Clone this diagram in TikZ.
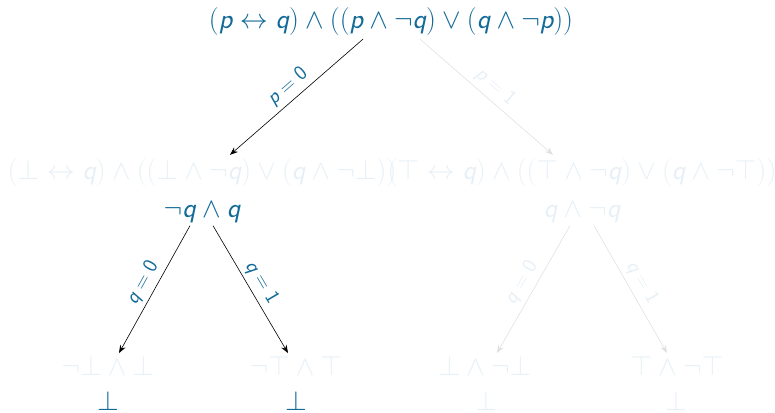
\documentclass[tikz,border=0pt]{standalone}
\usetikzlibrary{arrows.meta}
\definecolor{mainblue}{RGB}{18,106,152}
\definecolor{fadeblue}{RGB}{231,240,246}
\definecolor{fadegray}{RGB}{225,225,225}
\newcommand{\vp}{\textsf{\slshape p}}
\newcommand{\vq}{\textsf{\slshape q}}
\newcommand{\dz}{\textsf{0}}
\newcommand{\dn}{\textsf{1}}
\tikzset{
  expr/.style={text=mainblue, inner sep=0pt, scale=1.12, font=\fontsize{24.88}{30}\selectfont},
  fexpr/.style={expr, text=fadeblue},
  conn/.style={-{Stealth[length=8pt,width=6pt]}, line width=0.6pt, black},
  fconn/.style={conn, fadegray},
  lab/.style={text=mainblue, font=\fontsize{20.74}{24}\selectfont, sloped, above, inner sep=4pt},
  flab/.style={lab, text=fadeblue}
}
\begin{document}
\begin{tikzpicture}[x=1pt,y=-1pt]
\useasboundingbox (0,0) rectangle (775,412);
\node[expr] (top) at (391,22) {$(\vp\leftrightarrow\vq)\wedge((\vp\wedge\neg\vq)\vee(\vq\wedge\neg\vp))$};
\node[fexpr] (L) at (202,173) {$(\bot\leftrightarrow\vq)\wedge((\bot\wedge\neg\vq)\vee(\vq\wedge\neg\bot))$};
\node[expr] (Ls) at (202,212) {$\neg\vq\wedge\vq$};
\node[fexpr] (R) at (582,173) {$(\top\leftrightarrow\vq)\wedge((\top\wedge\neg\vq)\vee(\vq\wedge\neg\top))$};
\node[fexpr] (Rs) at (582,212) {$\vq\wedge\neg\vq$};
\node[fexpr] (LL) at (108,366) {$\neg\bot\wedge\bot$};
\node[expr] (LLr) at (108,401) {$\bot$};
\node[fexpr] (LR) at (296,366) {$\neg\top\wedge\top$};
\node[expr] (LRr) at (296,401) {$\bot$};
\node[fexpr] (RL) at (485,366) {$\bot\wedge\neg\bot$};
\node[fexpr] (RLr) at (486,401) {$\bot$};
\node[fexpr] (RR) at (677,366) {$\top\wedge\neg\top$};
\node[fexpr] (RRr) at (676,401) {$\bot$};
\draw[conn] ([xshift=-28pt,yshift=-3pt]top.south) -- node[lab] {$\vp=\dz$} ([xshift=28pt,yshift=4pt]L.north);
\draw[fconn] ([xshift=29pt,yshift=-3pt]top.south) -- node[flab] {$\vp=\dn$} ([xshift=-29pt,yshift=4pt]R.north);
\draw[conn] ([xshift=-12pt,yshift=-3pt]Ls.south) -- node[lab] {$\vq=\dz$} ([xshift=11pt,yshift=3pt]LL.north);
\draw[conn] ([xshift=11pt,yshift=-3pt]Ls.south) -- node[lab] {$\vq=\dn$} ([xshift=-8pt,yshift=3pt]LR.north);
\draw[fconn] ([xshift=-12pt,yshift=-3pt]Rs.south) -- node[flab] {$\vq=\dz$} ([xshift=12pt,yshift=3pt]RL.north);
\draw[fconn] ([xshift=12pt,yshift=-3pt]Rs.south) -- node[flab] {$\vq=\dn$} ([xshift=-10pt,yshift=3pt]RR.north);
\end{tikzpicture}
\end{document}
